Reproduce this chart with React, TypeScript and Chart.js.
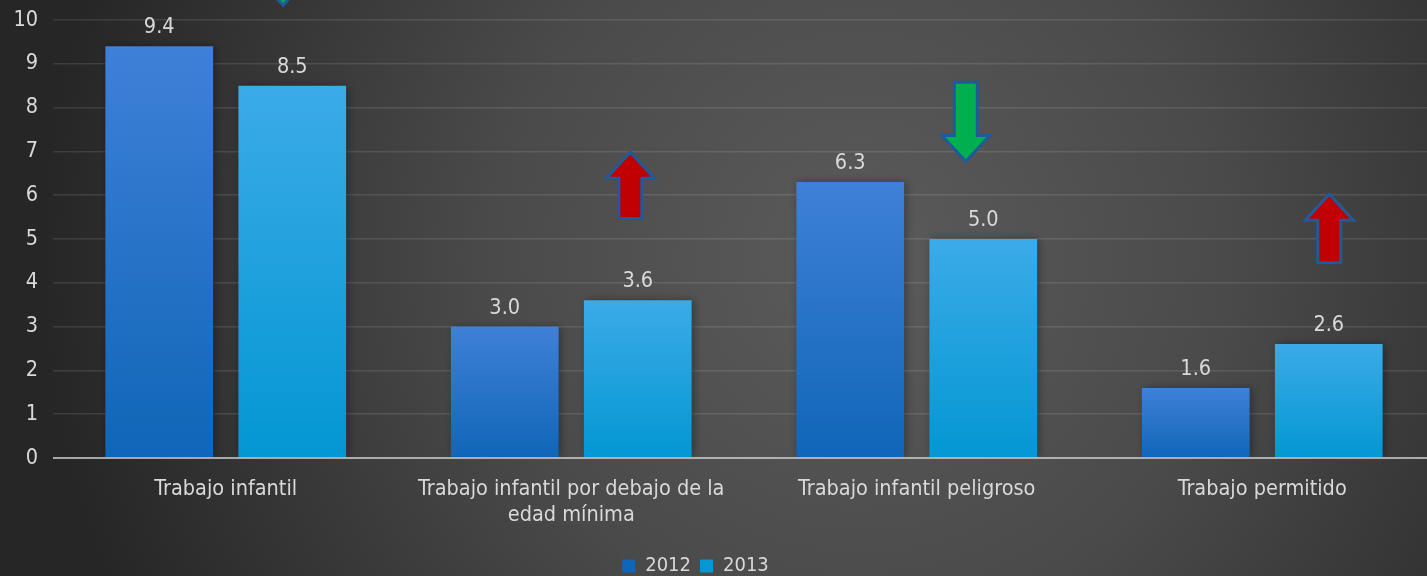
import React, { useEffect, useRef } from "react";
import { Chart, registerables } from "chart.js";

Chart.register(...registerables);

const categories: (string | string[])[] = [
  "Trabajo infantil",
  ["Trabajo infantil por debajo de la", "edad mínima"],
  "Trabajo infantil peligroso",
  "Trabajo permitido",
];
const seriesNames = ["2012", "2013"];
const values2012 = [9.4, 3.0, 6.3, 1.6];
const values2013 = [8.5, 3.6, 5.0, 2.6];
const yTicksMax = 10;

// change arrows: category index, horizontal offset (fraction of category), tail value, tip value
const arrowCategory = [0, 1, 2, 3];
const arrowOffset = [0.166, 0.171, 0.142, 0.194];
const arrowTail = [12.15, 5.47, 8.58, 4.46];
const arrowTip = [10.34, 6.98, 6.77, 6.02];
const arrowFill = ["#00b050", "#c00000", "#00b050", "#c00000"];

const FONT = "'DejaVu Sans Condensed', 'DejaVu Sans', sans-serif";
const TEXT = "#d9d9d9";
const FS = 21.5;

const colors = [
  { top: "#3f80d8", bottom: "#0f66b8", legend: "#2a70c8" },
  { top: "#3babe7", bottom: "#0397d3", legend: "#1ba3df" },
];

const gradientFill = (idx: number) => (ctx: any) => {
  const c = colors[idx];
  const chart = ctx.chart;
  if (!chart.chartArea || ctx.type !== "data") return c.legend;
  const y = chart.scales.y;
  const yTop = y.getPixelForValue(ctx.raw);
  const yBot = y.getPixelForValue(0);
  if (!isFinite(yTop) || !isFinite(yBot) || yTop === yBot) return c.legend;
  const g = chart.ctx.createLinearGradient(0, yTop, 0, yBot);
  g.addColorStop(0, c.top);
  g.addColorStop(1, c.bottom);
  return g;
};

const backgroundPlugin = {
  id: "bg",
  beforeDraw(chart: any) {
    const { ctx, width, height } = chart;
    ctx.save();
    const g = ctx.createRadialGradient(860, 260, 0, 860, 260, 820);
    g.addColorStop(0, "#5b5b5b");
    g.addColorStop(0.45, "#4a4a4a");
    g.addColorStop(1, "#262626");
    ctx.fillStyle = g;
    ctx.fillRect(0, 0, width, height);
    ctx.restore();
  },
};

const shadowPlugin = {
  id: "barShadow",
  beforeDatasetsDraw(chart: any) {
    const ctx = chart.ctx;
    ctx.save();
    ctx.shadowColor = "rgba(0,0,0,0.35)";
    ctx.shadowBlur = 8;
    ctx.shadowOffsetX = 2;
    ctx.shadowOffsetY = 0;
  },
  afterDatasetsDraw(chart: any) {
    chart.ctx.restore();
  },
};

const legendShiftPlugin = {
  id: "legendShift",
  afterLayout(chart: any) {
    const lg = chart.legend;
    if (lg) {
      lg.left -= 22;
      lg.right -= 22;
    }
  },
};

const overlayPlugin = {
  id: "overlay",
  afterDatasetsDraw(chart: any) {
    const { ctx, chartArea, scales } = chart;
    const y = scales.y;
    const x = scales.x;
    ctx.save();
    // zero line
    const y0 = y.getPixelForValue(0);
    ctx.strokeStyle = "rgba(210,210,210,0.75)";
    ctx.lineWidth = 2;
    ctx.beginPath();
    ctx.moveTo(chartArea.left, y0);
    ctx.lineTo(chart.width, y0);
    ctx.stroke();

    // value labels
    ctx.fillStyle = TEXT;
    ctx.font = `${FS}px ${FONT}`;
    ctx.textAlign = "center";
    ctx.textBaseline = "alphabetic";
    chart.data.datasets.forEach((ds: any, di: number) => {
      const meta = chart.getDatasetMeta(di);
      meta.data.forEach((el: any, i: number) => {
        ctx.fillText(Number(ds.data[i]).toFixed(1), el.x, el.y - 13);
      });
    });

    // arrows
    const catW = x.getPixelForValue(1) - x.getPixelForValue(0);
    arrowCategory.forEach((ci, k) => {
      const cx = x.getPixelForValue(ci) + arrowOffset[k] * catW;
      const yTail = y.getPixelForValue(arrowTail[k]);
      const yTip = y.getPixelForValue(arrowTip[k]);
      const dir = yTip > yTail ? 1 : -1;
      const shaft = 11.5;
      const head = 24;
      const headLen = 26 * dir;
      const yBase = yTip - headLen;
      ctx.beginPath();
      ctx.moveTo(cx - shaft, yTail);
      ctx.lineTo(cx + shaft, yTail);
      ctx.lineTo(cx + shaft, yBase);
      ctx.lineTo(cx + head, yBase);
      ctx.lineTo(cx, yTip);
      ctx.lineTo(cx - head, yBase);
      ctx.lineTo(cx - shaft, yBase);
      ctx.closePath();
      ctx.fillStyle = arrowFill[k];
      ctx.fill();
      ctx.lineWidth = 3;
      ctx.lineJoin = "miter";
      ctx.strokeStyle = "#1f5a9a";
      ctx.stroke();
    });
    ctx.restore();
  },
};

export default function App() {
  const ref = useRef<HTMLCanvasElement>(null);
  useEffect(() => {
    if (!ref.current) return;
    const chart = new Chart(ref.current, {
      type: "bar",
      data: {
        labels: categories,
        datasets: [
          {
            label: seriesNames[0],
            data: values2012,
            backgroundColor: gradientFill(0),
            borderWidth: 0,
            categoryPercentage: 0.77,
            barPercentage: 0.81,
          },
          {
            label: seriesNames[1],
            data: values2013,
            backgroundColor: gradientFill(1),
            borderWidth: 0,
            categoryPercentage: 0.77,
            barPercentage: 0.81,
          },
        ],
      },
      options: {
        animation: false,
        responsive: false,
        maintainAspectRatio: false,
        layout: { padding: { top: 20, right: 1, left: 0, bottom: -10 } },
        plugins: {
          tooltip: { enabled: false },
          legend: {
            position: "bottom",
            labels: {
              color: TEXT,
              font: { family: FONT, size: 20 },
              boxWidth: 13,
              boxHeight: 13,
              padding: 9,
            },
          },
        },
        scales: {
          x: {
            grid: { display: false },
            border: { display: false },
            ticks: {
              color: TEXT,
              font: { family: FONT, size: FS, lineHeight: 1.21 },
              padding: 10,
              maxRotation: 0,
              autoSkip: false,
            },
            afterFit: (s: any) => {
              s.height = 89;
            },
          },
          y: {
            min: 0,
            max: yTicksMax,
            grid: {
              color: (c: any) => (c.tick && c.tick.value === 0 ? "rgba(0,0,0,0)" : "rgba(255,255,255,0.11)"),
              lineWidth: 1.5,
              drawTicks: false,
            },
            border: { display: false },
            ticks: {
              stepSize: 1,
              color: TEXT,
              font: { family: FONT, size: FS },
              padding: 15,
            },
            afterFit: (s: any) => {
              s.width = 53;
              s.paddingTop = 0;
              s.paddingBottom = 0;
            },
          },
        },
      },
      plugins: [backgroundPlugin, legendShiftPlugin, shadowPlugin, overlayPlugin],
    });
    return () => chart.destroy();
  }, []);
  return (
    <div style={{ position: "fixed", left: 0, top: 0, width: 1436, height: 576 }}>
      <canvas ref={ref} width={1436} height={576} style={{ display: "block" }} />
    </div>
  );
}
